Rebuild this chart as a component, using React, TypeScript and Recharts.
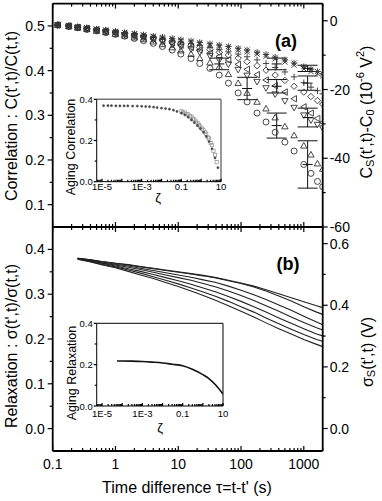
import React from 'react';
import { ScatterChart, Scatter, LineChart, Line, XAxis, YAxis, ErrorBar } from 'recharts';

const FONT = '"Liberation Sans", Arial, Helvetica, sans-serif';

// ---- panel (a): correlation, one array per marker type ----
const tau = [0.12, 0.18, 0.25, 0.35, 0.5, 0.7, 1, 1.4, 2, 2.8, 4, 5.6, 8, 11, 16, 22, 32, 45, 63, 90, 125, 180, 250, 350, 500, 700, 1000, 1300, 1650, 2000];
const corrStar = [0.503, 0.501, 0.498, 0.496, 0.493, 0.491, 0.488, 0.485, 0.483, 0.48, 0.477, 0.475, 0.472, 0.469, 0.466, 0.463, 0.46, 0.457, 0.454, 0.45, 0.446, 0.441, 0.436, 0.43, 0.424, 0.417, 0.409, 0.403, 0.398, 0.393];
const corrCross = [0.503, 0.501, 0.498, 0.496, 0.493, 0.49, 0.487, 0.485, 0.482, 0.479, 0.476, 0.473, 0.47, 0.467, 0.464, 0.461, 0.457, 0.454, 0.45, 0.446, 0.442, 0.437, 0.432, 0.426, 0.419, 0.412, 0.404, 0.398, 0.393, 0.388];
const corrPlus = [0.502, 0.5, 0.497, 0.495, 0.492, 0.489, 0.487, 0.484, 0.481, 0.478, 0.475, 0.472, 0.468, 0.464, 0.46, 0.456, 0.452, 0.447, 0.442, 0.437, 0.431, 0.424, 0.416, 0.407, 0.397, 0.386, 0.373, 0.363, 0.355, 0.348];
const corrDiamond = [0.502, 0.5, 0.497, 0.494, 0.491, 0.489, 0.486, 0.483, 0.48, 0.477, 0.473, 0.469, 0.465, 0.461, 0.457, 0.452, 0.447, 0.441, 0.435, 0.428, 0.42, 0.411, 0.401, 0.39, 0.378, 0.365, 0.352, 0.342, 0.333, 0.325];
const corrLeft = [0.502, 0.5, 0.497, 0.494, 0.491, 0.488, 0.485, 0.482, 0.478, 0.475, 0.471, 0.467, 0.462, 0.457, 0.452, 0.446, 0.439, 0.432, 0.424, 0.414, 0.403, 0.391, 0.379, 0.366, 0.352, 0.337, 0.319, 0.305, 0.293, 0.284];
const corrDown = [0.502, 0.499, 0.496, 0.493, 0.49, 0.487, 0.484, 0.48, 0.477, 0.473, 0.469, 0.464, 0.459, 0.454, 0.448, 0.441, 0.433, 0.424, 0.414, 0.402, 0.389, 0.375, 0.361, 0.347, 0.332, 0.317, 0.3, 0.289, 0.279, 0.271];
const corrUp = [0.502, 0.499, 0.496, 0.493, 0.489, 0.486, 0.482, 0.478, 0.474, 0.47, 0.465, 0.459, 0.452, 0.445, 0.437, 0.428, 0.418, 0.408, 0.392, 0.372, 0.35, 0.33, 0.315, 0.295, 0.275, 0.255, 0.232, 0.212, 0.192, 0.18];
const corrCircle = [0.502, 0.499, 0.496, 0.492, 0.489, 0.485, 0.481, 0.477, 0.472, 0.467, 0.461, 0.454, 0.446, 0.437, 0.427, 0.416, 0.405, 0.39, 0.372, 0.35, 0.33, 0.305, 0.285, 0.262, 0.24, 0.22, 0.19, 0.17, 0.152, 0.14];

// error bars
const errTau = [45, 125, 370, 370, 370, 1150, 1150, 1150, 1150];
const errVal = [0.415, 0.36, 0.415, 0.365, 0.277, 0.405, 0.372, 0.295, 0.19];
const errSize = [0.013, 0.025, 0.013, 0.015, 0.028, 0.007, 0.016, 0.021, 0.053];

// ---- panel (b): relaxation lines ----
const tauB = [0.25, 0.4, 0.6, 1, 1.6, 2.5, 4, 6.3, 10, 16, 25, 40, 63, 100, 160, 250, 400, 630, 1000, 1600, 2000];
const relax1 = [0.38, 0.377, 0.373, 0.369, 0.366, 0.362, 0.358, 0.354, 0.35, 0.346, 0.342, 0.337, 0.331, 0.325, 0.318, 0.31, 0.301, 0.292, 0.283, 0.274, 0.27];
const relax2 = [0.38, 0.377, 0.373, 0.369, 0.365, 0.361, 0.357, 0.353, 0.349, 0.345, 0.341, 0.336, 0.33, 0.324, 0.316, 0.307, 0.296, 0.285, 0.272, 0.26, 0.255];
const relax3 = [0.38, 0.376, 0.372, 0.367, 0.363, 0.358, 0.353, 0.348, 0.343, 0.338, 0.332, 0.326, 0.318, 0.309, 0.299, 0.288, 0.276, 0.264, 0.251, 0.238, 0.232];
const relax4 = [0.379, 0.375, 0.37, 0.365, 0.36, 0.355, 0.349, 0.343, 0.337, 0.331, 0.324, 0.316, 0.307, 0.297, 0.286, 0.274, 0.262, 0.249, 0.237, 0.225, 0.22];
const relax5 = [0.379, 0.374, 0.369, 0.363, 0.357, 0.351, 0.344, 0.337, 0.33, 0.322, 0.314, 0.305, 0.295, 0.284, 0.272, 0.26, 0.247, 0.235, 0.223, 0.211, 0.207];
const relax6 = [0.378, 0.373, 0.367, 0.361, 0.354, 0.347, 0.339, 0.331, 0.323, 0.314, 0.305, 0.295, 0.284, 0.272, 0.26, 0.247, 0.234, 0.222, 0.21, 0.199, 0.195];
const relax7 = [0.378, 0.372, 0.366, 0.359, 0.351, 0.343, 0.335, 0.326, 0.317, 0.307, 0.297, 0.286, 0.274, 0.262, 0.249, 0.236, 0.223, 0.211, 0.199, 0.188, 0.183];

// ---- insets ----
const zetaA = [1.2e-5, 2e-5, 3e-5, 5e-5, 8e-5, 1.3e-4, 2e-4, 3.5e-4, 6e-4, 1e-3, 1.6e-3, 2.5e-3, 4e-3, 6e-3, 0.01, 0.016, 0.025, 0.04, 0.06, 0.1, 0.15, 0.22, 0.32, 0.45, 0.65, 0.9, 1.3, 1.8, 2.5, 3.5, 5, 7];
const agingCorr = [0.369, 0.369, 0.369, 0.368, 0.368, 0.368, 0.368, 0.367, 0.367, 0.366, 0.365, 0.364, 0.362, 0.36, 0.357, 0.355, 0.352, 0.347, 0.341, 0.333, 0.324, 0.313, 0.3, 0.287, 0.272, 0.258, 0.24, 0.22, 0.195, 0.16, 0.115, 0.068];
const zetaA2 = [0.1, 0.15, 0.22, 0.32, 0.45, 0.65, 0.9, 1.3, 1.8, 2.5, 3.5, 5];
const agingCorr2 = [0.342, 0.336, 0.327, 0.316, 0.302, 0.285, 0.268, 0.252, 0.232, 0.21, 0.178, 0.13];
const zetaA3 = [0.12, 0.18, 0.27, 0.38, 0.55, 0.78, 1.1, 1.6, 2.2, 3, 4.2, 6];
const agingCorr3 = [0.336, 0.328, 0.318, 0.306, 0.292, 0.276, 0.258, 0.24, 0.215, 0.188, 0.15, 0.095];
const zetaB = [5.5e-5, 1e-4, 3e-4, 1e-3, 3e-3, 0.01, 0.03, 0.1, 0.3, 1, 2, 4, 10];
const agingRelax = [0.218, 0.218, 0.217, 0.215, 0.212, 0.208, 0.202, 0.195, 0.178, 0.152, 0.133, 0.105, 0.058];

// ---- ticks ----
const xTicks = [0.1, 0.2, 0.3, 0.4, 0.5, 0.6, 0.7, 0.8, 0.9, 1, 2, 3, 4, 5, 6, 7, 8, 9, 10, 20, 30, 40, 50, 60, 70, 80, 90, 100, 200, 300, 400, 500, 600, 700, 800, 900, 1000, 2000];
const xMajor = [0.1, 1, 10, 100, 1000];
const xLabels = ['0.1', '1', '10', '100', '1000'];
const corrTicks = [0.1, 0.15, 0.2, 0.25, 0.3, 0.35, 0.4, 0.45, 0.5];
const corrMajor = [0.1, 0.2, 0.3, 0.4, 0.5];
const csTicks = [-60, -50, -40, -30, -20, -10, 0];
const csMajor = [-60, -40, -20, 0];
const relTicks = [0, 0.05, 0.1, 0.15, 0.2, 0.25, 0.3, 0.35, 0.4];
const relMajor = [0, 0.1, 0.2, 0.3, 0.4];
const sigTicks = [0, 0.1, 0.2, 0.3, 0.4, 0.5, 0.6];
const sigMajor = [0, 0.2, 0.4, 0.6];
const zTicks = [6e-6, 7e-6, 8e-6, 9e-6,
  1e-5, 2e-5, 3e-5, 4e-5, 5e-5, 6e-5, 7e-5, 8e-5, 9e-5,
  1e-4, 2e-4, 3e-4, 4e-4, 5e-4, 6e-4, 7e-4, 8e-4, 9e-4,
  1e-3, 2e-3, 3e-3, 4e-3, 5e-3, 6e-3, 7e-3, 8e-3, 9e-3,
  0.01, 0.02, 0.03, 0.04, 0.05, 0.06, 0.07, 0.08, 0.09,
  0.1, 0.2, 0.3, 0.4, 0.5, 0.6, 0.7, 0.8, 0.9,
  1, 2, 3, 4, 5, 6, 7, 8, 9, 10];
const zMajor = [1e-5, 1e-4, 1e-3, 1e-2, 0.1, 1, 10];
const zLabelAt = [1e-5, 1e-3, 0.1, 10];
const zLabels = ['1E-5', '1E-3', '0.1', '10'];
const insetYTicks = [0, 0.1, 0.2, 0.3, 0.4];
const insetYMajor = [0, 0.2, 0.4];

const near = (a: number, b: number) => Math.abs(a - b) <= Math.abs(b) * 1e-6 + 1e-9;

type TickOpts = {
  side: 'left' | 'right' | 'top' | 'bottom';
  len: number;
  minorLen: number;
  inward: boolean;
  majors: number[];
  label?: (v: number) => string | null;
  fontSize?: number;
  gap?: number;
};

function makeTick(o: TickOpts) {
  return (props: any) => {
    const { x, y, payload } = props;
    const v = payload.value;
    const major = o.majors.some((m) => near(v, m));
    const L = major ? o.len : o.minorLen;
    const d = o.inward ? 1 : -1;
    let x2 = x;
    let y2 = y;
    if (o.side === 'left') x2 = x + d * L;
    if (o.side === 'right') x2 = x - d * L;
    if (o.side === 'top') y2 = y + d * L;
    if (o.side === 'bottom') y2 = y - d * L;
    const txt = o.label ? o.label(v) : null;
    const fs = o.fontSize || 14;
    const gap = o.gap || 3;
    let label = null;
    if (txt !== null) {
      if (o.side === 'left') {
        label = <text x={x - (o.inward ? 0 : o.len) - gap} y={y} textAnchor="end" dominantBaseline="central" fontSize={fs} fontFamily={FONT} fill="#000">{txt}</text>;
      } else if (o.side === 'right') {
        label = <text x={x + (o.inward ? 0 : o.len) + gap} y={y} textAnchor="start" dominantBaseline="central" fontSize={fs} fontFamily={FONT} fill="#000">{txt}</text>;
      } else if (o.side === 'bottom') {
        label = <text x={x} y={y + gap} textAnchor="middle" dominantBaseline="central" fontSize={fs} fontFamily={FONT} fill="#000">{txt}</text>;
      }
    }
    return (
      <g>
        <line x1={x} y1={y} x2={x2} y2={y2} stroke="#000" strokeWidth={1.2} />
        {label}
      </g>
    );
  };
}

const pick = (majors: number[], labels: string[]) => (v: number) => {
  const i = majors.findIndex((m) => near(v, m));
  return i >= 0 ? labels[i] : null;
};

const MK = '#333';
function Marker({ cx, cy, kind }: { cx: number; cy: number; kind: string }) {
  const r = 3.2;
  const c = { fill: 'none', stroke: MK, strokeWidth: 0.9 };
  const k = r * 0.8;
  switch (kind) {
    case 'circle':
      return <circle cx={cx} cy={cy} r={3} {...c} />;
    case 'up':
      return <polygon points={`${cx},${cy - r} ${cx + r},${cy + r * 0.75} ${cx - r},${cy + r * 0.75}`} {...c} />;
    case 'down':
      return <polygon points={`${cx},${cy + r} ${cx + r},${cy - r * 0.75} ${cx - r},${cy - r * 0.75}`} {...c} />;
    case 'left':
      return <polygon points={`${cx - r},${cy} ${cx + r * 0.75},${cy - r} ${cx + r * 0.75},${cy + r}`} {...c} />;
    case 'diamond':
      return <polygon points={`${cx},${cy - r} ${cx + r},${cy} ${cx},${cy + r} ${cx - r},${cy}`} {...c} />;
    case 'plus':
      return <path d={`M${cx - r},${cy}H${cx + r}M${cx},${cy - r}V${cy + r}`} {...c} />;
    case 'cross':
      return <path d={`M${cx - k},${cy - k}L${cx + k},${cy + k}M${cx - k},${cy + k}L${cx + k},${cy - k}`} {...c} />;
    default:
      return <path d={`M${cx - r},${cy}H${cx + r}M${cx},${cy - r}V${cy + r}M${cx - k},${cy - k}L${cx + k},${cy + k}M${cx - k},${cy + k}L${cx + k},${cy - k}`} {...c} />;
  }
}

const corrSeries = [
  { name: 'o', vals: corrCircle, kind: 'circle' },
  { name: 'up', vals: corrUp, kind: 'up' },
  { name: 'down', vals: corrDown, kind: 'down' },
  { name: 'left', vals: corrLeft, kind: 'left' },
  { name: 'diamond', vals: corrDiamond, kind: 'diamond' },
  { name: 'plus', vals: corrPlus, kind: 'plus' },
  { name: 'cross', vals: corrCross, kind: 'cross' },
  { name: 'star', vals: corrStar, kind: 'star' },
];

const errData = errTau.map((t, i) => ({ x: t, y: errVal[i], e: errSize[i] }));
const relaxData = tauB.map((t, i) => ({
  t, l1: relax1[i], l2: relax2[i], l3: relax3[i], l4: relax4[i], l5: relax5[i], l6: relax6[i], l7: relax7[i],
}));
const relaxKeys = ['l1', 'l2', 'l3', 'l4', 'l5', 'l6', 'l7'];

const AX = { stroke: '#000', strokeWidth: 1.8 };
const common = { tickSize: 0, tickMargin: 0, tickLine: false, interval: 0 as const, allowDataOverflow: true };

// plot areas in page pixels; every axis is 1px thick so margins are 1px short
const PL = 52.7;
const PR = 322.7;
const margins = (top: number, bottom: number, left: number, right: number, h: number) => ({
  top: top - 1, bottom: h - bottom - 1, left: left - 1, right: 382 - right - 1,
});

const grayBox = (p: any) => <rect x={p.cx - 1.6} y={p.cy - 1.6} width={3.2} height={3.2} fill="none" stroke="#9a9a9a" strokeWidth={0.8} />;

export default function App() {
  return (
    <div style={{ position: 'absolute', left: 0, top: 0, width: 382, height: 501, background: '#fff', overflow: 'hidden' }}>
      {/* (a) correlation */}
      <div style={{ position: 'absolute', left: 0, top: 0 }}>
        <ScatterChart width={382} height={240} margin={margins(3.6, 227, PL, PR, 240)}>
          <XAxis xAxisId="b" dataKey="x" type="number" scale="log" domain={[0.1, 2000]} ticks={xTicks} height={1} axisLine={AX} {...common}
            tick={makeTick({ side: 'bottom', len: 5, minorLen: 3, inward: true, majors: xMajor })} />
          <XAxis xAxisId="t" orientation="top" dataKey="x" type="number" scale="log" domain={[0.1, 2000]} ticks={xTicks} height={1} axisLine={AX} {...common}
            tick={makeTick({ side: 'top', len: 5, minorLen: 3, inward: true, majors: xMajor })} />
          <YAxis yAxisId="l" dataKey="y" type="number" domain={[0.05, 0.55]} ticks={corrTicks} width={1} axisLine={AX} {...common}
            tick={makeTick({ side: 'left', len: 5, minorLen: 3, inward: false, majors: corrMajor, label: (v) => (corrMajor.some((m) => near(v, m)) ? v.toFixed(1) : null) })} />
          <YAxis yAxisId="r" orientation="right" type="number" domain={[-60, 5]} ticks={csTicks} width={1} axisLine={AX} {...common}
            tick={makeTick({ side: 'right', len: 5, minorLen: 3, inward: false, majors: csMajor, gap: 2, label: (v) => (csMajor.some((m) => near(v, m)) ? String(v) : null) })} />
          {corrSeries.map((s) => (
            <Scatter key={s.name} xAxisId="b" yAxisId="l" data={tau.map((t, i) => ({ x: t, y: s.vals[i] }))} isAnimationActive={false}
              shape={(p: any) => <Marker cx={p.cx} cy={p.cy} kind={s.kind} />} />
          ))}
          <Scatter xAxisId="b" yAxisId="l" data={errData} isAnimationActive={false}
            shape={(p: any) => <line x1={p.cx - 5} x2={p.cx + 5} y1={p.cy} y2={p.cy} stroke="#111" strokeWidth={1} />}>
            <ErrorBar dataKey="e" direction="y" width={10} stroke="#111" strokeWidth={1} />
          </Scatter>
        </ScatterChart>
      </div>

      {/* (b) relaxation */}
      <div style={{ position: 'absolute', left: 0, top: 0 }}>
        <LineChart width={382} height={480} data={relaxData} margin={margins(227, 451, PL, PR, 480)}>
          <XAxis xAxisId="b" dataKey="t" type="number" scale="log" domain={[0.1, 2000]} ticks={xTicks} height={1} axisLine={AX} {...common}
            tick={makeTick({ side: 'bottom', len: 5, minorLen: 3, inward: true, majors: xMajor, gap: 13, label: pick(xMajor, xLabels) })} />
          <XAxis xAxisId="t" orientation="top" dataKey="t" type="number" scale="log" domain={[0.1, 2000]} ticks={xTicks} height={1} axisLine={AX} {...common}
            tick={makeTick({ side: 'top', len: 5, minorLen: 3, inward: true, majors: xMajor })} />
          <YAxis yAxisId="l" type="number" domain={[-0.05, 0.45]} ticks={relTicks} width={1} axisLine={AX} {...common}
            tick={makeTick({ side: 'left', len: 5, minorLen: 3, inward: false, majors: relMajor, label: (v) => (relMajor.some((m) => near(v, m)) ? v.toFixed(1) : null) })} />
          <YAxis yAxisId="r" orientation="right" type="number" domain={[-0.073, 0.654]} ticks={sigTicks} width={1} axisLine={AX} {...common}
            tick={makeTick({ side: 'right', len: 5, minorLen: 3, inward: false, majors: sigMajor, gap: 2, label: (v) => (sigMajor.some((m) => near(v, m)) ? v.toFixed(1) : null) })} />
          {relaxKeys.map((k) => (
            <Line key={k} xAxisId="b" yAxisId="l" dataKey={k} type="linear" stroke="#222" strokeWidth={1.1} dot={false} isAnimationActive={false} />
          ))}
        </LineChart>
      </div>

      {/* inset (a) */}
      <div style={{ position: 'absolute', left: 0, top: 0 }}>
        <ScatterChart width={382} height={240} margin={margins(99.3, 181.7, 96.7, 221, 240)}>
          <XAxis xAxisId="b" dataKey="x" type="number" scale="log" domain={[5.4e-6, 10]} ticks={zTicks} height={1} axisLine={{ stroke: '#000', strokeWidth: 1 }} {...common}
            tick={makeTick({ side: 'bottom', len: 3, minorLen: 2, inward: true, majors: zMajor, fontSize: 9.5, gap: 5, label: pick(zLabelAt, zLabels) })} />
          <XAxis xAxisId="t" orientation="top" dataKey="x" type="number" scale="log" domain={[5.4e-6, 10]} height={1} tick={false} tickLine={false} allowDataOverflow axisLine={{ stroke: '#777', strokeWidth: 1.5 }} />
          <YAxis yAxisId="l" dataKey="y" type="number" domain={[0, 0.4]} ticks={insetYTicks} width={1} axisLine={{ stroke: '#000', strokeWidth: 1 }} {...common}
            tick={makeTick({ side: 'left', len: 3, minorLen: 2, inward: false, majors: insetYMajor, fontSize: 9.5, gap: 1, label: (v) => (insetYMajor.some((m) => near(v, m)) ? v.toFixed(1) : null) })} />
          <YAxis yAxisId="r" orientation="right" type="number" domain={[0, 0.4]} width={1} tick={false} tickLine={false} allowDataOverflow axisLine={{ stroke: '#777', strokeWidth: 1.5 }} />
          <Scatter xAxisId="b" yAxisId="l" data={zetaA2.map((z, i) => ({ x: z, y: agingCorr2[i] }))} isAnimationActive={false} shape={grayBox} />
          <Scatter xAxisId="b" yAxisId="l" data={zetaA3.map((z, i) => ({ x: z, y: agingCorr3[i] }))} isAnimationActive={false} shape={grayBox} />
          <Scatter xAxisId="b" yAxisId="l" data={zetaA.map((z, i) => ({ x: z, y: agingCorr[i] }))} isAnimationActive={false}
            shape={(p: any) => <circle cx={p.cx} cy={p.cy} r={1.1} fill="#444" stroke="#444" strokeWidth={0.5} />} />
        </ScatterChart>
      </div>

      {/* inset (b) */}
      <div style={{ position: 'absolute', left: 0, top: 0 }}>
        <LineChart width={382} height={480} data={zetaB.map((z, i) => ({ z, v: agingRelax[i] }))} margin={margins(323.3, 406, 96.7, 223, 480)}>
          <XAxis xAxisId="b" dataKey="z" type="number" scale="log" domain={[5.4e-6, 10]} ticks={zTicks} height={1} axisLine={{ stroke: '#000', strokeWidth: 1 }} {...common}
            tick={makeTick({ side: 'bottom', len: 3, minorLen: 2, inward: true, majors: zMajor, fontSize: 9.5, gap: 7, label: pick(zLabelAt, zLabels) })} />
          <XAxis xAxisId="t" orientation="top" dataKey="z" type="number" scale="log" domain={[5.4e-6, 10]} height={1} tick={false} tickLine={false} allowDataOverflow axisLine={{ stroke: '#000', strokeWidth: 1 }} />
          <YAxis yAxisId="l" type="number" domain={[0, 0.4]} ticks={insetYTicks} width={1} axisLine={{ stroke: '#000', strokeWidth: 1 }} {...common}
            tick={makeTick({ side: 'left', len: 3, minorLen: 2, inward: false, majors: insetYMajor, fontSize: 9.5, gap: 1, label: (v) => (insetYMajor.some((m) => near(v, m)) ? v.toFixed(1) : null) })} />
          <YAxis yAxisId="r" orientation="right" type="number" domain={[0, 0.4]} width={1} tick={false} tickLine={false} allowDataOverflow axisLine={{ stroke: '#000', strokeWidth: 1 }} />
          <Line xAxisId="b" yAxisId="l" dataKey="v" type="monotone" stroke="#111" strokeWidth={1.6} dot={false} isAnimationActive={false} />
        </LineChart>
      </div>

      {/* titles */}
      <svg width={382} height={501} style={{ position: 'absolute', left: 0, top: 0, pointerEvents: 'none' }} fontFamily={FONT}>
        <text transform="translate(11,116) rotate(-90)" textAnchor="middle" dominantBaseline="central" fontSize={16}>Correlation : C(t',t)/C(t,t)</text>
        <text transform="translate(11,346) rotate(-90)" textAnchor="middle" dominantBaseline="central" fontSize={16}>Relaxation : σ(t',t)/σ(t,t)</text>
        <text transform="translate(366,112) rotate(-90)" textAnchor="middle" dominantBaseline="central" fontSize={16}>
          C<tspan dy={4} fontSize={11}>S</tspan><tspan dy={-4}>(t',t)-C</tspan><tspan dy={4} fontSize={11}>0</tspan><tspan dy={-4}> (10</tspan><tspan dy={-6} fontSize={11}>-6</tspan><tspan dy={6}> V</tspan><tspan dy={-6} fontSize={11}>2</tspan><tspan dy={6}>)</tspan>
        </text>
        <text transform="translate(367,352) rotate(-90)" textAnchor="middle" dominantBaseline="central" fontSize={16}>
          σ<tspan dy={4} fontSize={11}>S</tspan><tspan dy={-4}>(t',t) (V)</tspan>
        </text>
        <text x={286} y={47} textAnchor="middle" fontSize={18} fontWeight="bold">(a)</text>
        <text x={288} y={270} textAnchor="middle" fontSize={18} fontWeight="bold">(b)</text>
        <text x={187} y={493} textAnchor="middle" fontSize={16}>Time difference τ=t-t' (s)</text>
        <text transform="translate(71,147) rotate(-90)" textAnchor="middle" dominantBaseline="central" fontSize={12.5}>Aging Correlation</text>
        <text transform="translate(72,373) rotate(-90)" textAnchor="middle" dominantBaseline="central" fontSize={12.5}>Aging Relaxation</text>
        <text x={158} y={197} textAnchor="middle" dominantBaseline="central" fontSize={13}>ζ</text>
        <text x={160} y={427} textAnchor="middle" dominantBaseline="central" fontSize={13}>ζ</text>
      </svg>
    </div>
  );
}
